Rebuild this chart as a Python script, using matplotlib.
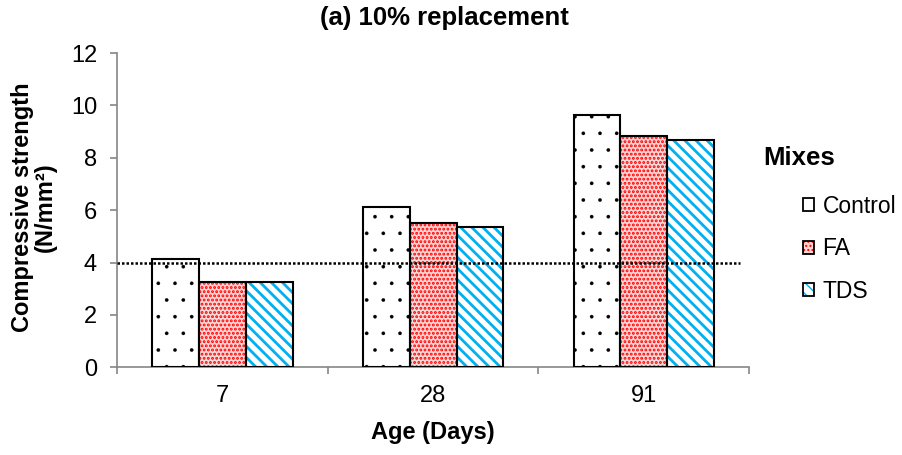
import matplotlib
matplotlib.use("Agg")
import matplotlib.pyplot as plt
import numpy as np
from matplotlib.patches import Patch

plt.rcParams['font.family'] = ['Liberation Sans', 'DejaVu Sans']

ages = ['7', '28', '91']
mixes = ['Control', 'FA', 'TDS']
control = [4.12, 6.13, 9.65]
fa = [3.26, 5.52, 8.82]
tds = [3.24, 5.34, 8.68]
target = 4.0

# face colour, hatch colour, hatch, hatch linewidth
styles = [
    ('white', 'black', '.', 0.2),
    ('#ffd6d6', '#ff0000', '....', 1.4),
    ('white', '#00b0f0', '\\\\\\', 2.0),
]

fig = plt.figure(figsize=(9.02, 4.55), dpi=100)
ax = fig.add_axes([0.130, 0.1927, 0.7004, 0.6908])

x = np.arange(len(ages))
w = 0.222
handles = []
for i, vals in enumerate([control, fa, tds]):
    face, hc, hatch, hlw = styles[i]
    pos = x + (i - 1) * w
    with plt.rc_context({'hatch.linewidth': hlw}):
        ax.bar(pos, vals, w, color=face, edgecolor=hc, hatch=hatch, linewidth=0, zorder=2)
        h1 = Patch(facecolor=face, edgecolor=hc, hatch=hatch, linewidth=0)
    ax.bar(pos, vals, w, fill=False, edgecolor='black', linewidth=1.5, zorder=3)
    h2 = Patch(fill=False, edgecolor='black', linewidth=1.3)
    handles.append((h1, h2))

ax.axhline(target, xmin=0, xmax=0.985, color='black', linestyle=(0, (1, 0.8)),
           linewidth=1.8, zorder=4)

ax.set_xlim(-0.5, 2.5)
ax.set_ylim(0, 12)
ax.set_yticks(np.arange(0, 13, 2))
ax.set_xticks(x)
ax.set_xticklabels(ages)
ax.set_xticks([-0.5, 0.5, 1.5, 2.5], minor=True)
ax.tick_params(axis='x', which='major', length=0, pad=12.5, labelsize=17)
ax.tick_params(axis='x', which='minor', length=5, width=1.2, color='#868686')
ax.tick_params(axis='y', length=5, width=1.2, color='#868686', labelsize=17, pad=9.5)
for s in ['top', 'right']:
    ax.spines[s].set_visible(False)
for s in ['left', 'bottom']:
    ax.spines[s].set_color('#868686')
    ax.spines[s].set_linewidth(1.2)

fig.text(444 / 902, 1 - 18 / 455, '(a) 10% replacement', ha='center', va='center',
         fontsize=18.5, fontweight='bold')
fig.text(433 / 902, 1 - 433 / 455, 'Age (Days)', ha='center', va='center',
         fontsize=17, fontweight='bold')
fig.text(34 / 902, 1 - 207 / 455, 'Compressive strength\n(N/mm²)', ha='center', va='center',
         rotation=90, fontsize=17, fontweight='bold', linespacing=1.0)
fig.text(763 / 902, 1 - 158 / 455, 'Mixes', ha='left', va='center',
         fontsize=18.5, fontweight='bold')

fig.legend(handles, mixes, loc='upper left', bbox_to_anchor=(803 / 902, 1 - 195 / 455),
           frameon=False, fontsize=16.5, handlelength=0.5, handleheight=0.5,
           handletextpad=0.35, labelspacing=0.85, borderpad=0, borderaxespad=0)

fig.savefig('out.png', dpi=100)
